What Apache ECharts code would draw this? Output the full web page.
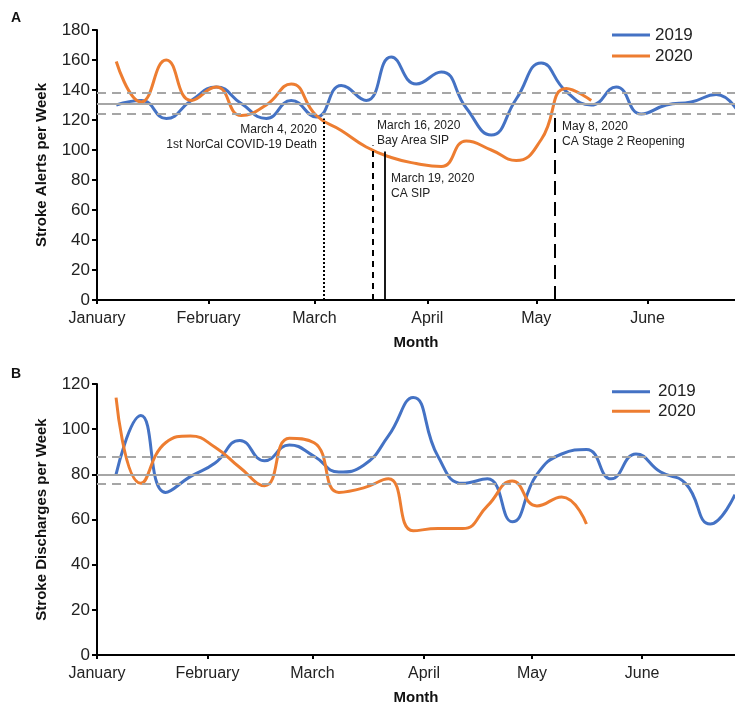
<!DOCTYPE html>
<html><head><meta charset="utf-8">
<script src="https://cdn.jsdelivr.net/npm/echarts@6/dist/echarts.min.js"></script>
<style>html,body{margin:0;padding:0;background:#fff}#c{width:735px;height:707px}</style>
</head><body><div id="c"></div>
<script>
// ---- data (x unit = week index; week 0 = first week of January) ----
const monthNames = ['January', 'February', 'March', 'April', 'May', 'June'];
const monthPos = [-0.77, 3.69, 7.93, 12.44, 16.8, 21.25];

const alerts2019 = [130, 133, 121, 133, 142, 131, 121, 133, 122, 143, 133, 162, 144, 152, 128, 110, 134, 158, 139, 130, 142, 124, 130, 132, 137, 122];
const alerts2020 = [159, 132, 160, 133, 142, 123, 130, 144, 123, 113, 102, 95, 91, 89, 106, 100, 93, 107, 141, 133];
const discharges2019 = [80, 106, 72, 79, 85, 95, 86, 93, 88, 81, 84, 97, 114, 88, 76, 78, 59, 80, 89, 91, 78, 89, 81, 76, 58, 71];
const discharges2020 = [114, 76, 94, 97, 92, 83, 75, 96, 94, 72, 74, 78, 55, 56, 56, 66, 77, 66, 70, 58];

const alertsRef = [131, 138, 124];      // mean, upper, lower
const dischargesRef = [80, 88, 76];

const events = [
  { week: 8.30, top: 121, style: [2, 2], title: 'March 4, 2020', note: '1st NorCal COVID-19 Death' },
  { week: 10.24, top: 103, style: [6, 5], title: 'March 16, 2020', note: 'Bay Area SIP' },
  { week: 10.74, top: 99, style: 'solid', title: 'March 19, 2020', note: 'CA SIP' },
  { week: 17.53, top: 123, style: [14, 7], title: 'May 8, 2020', note: 'CA Stage 2 Reopening' }
];

const FONT = 'Liberation Sans, Arial, sans-serif';
const BLUE = '#4472C4', ORANGE = '#ED7D31', GREY = '#A6A6A6';
const toXY = arr => arr.map((v, i) => [i, v]);

function xAxis(gridIndex, max) {
  return {
    type: 'value', gridIndex, min: monthPos[0], max,
    name: 'Month', nameLocation: 'middle', nameGap: 35,
    nameTextStyle: { fontFamily: FONT, fontSize: 15, fontWeight: 'bold', color: '#111' },
    axisLine: { onZero: false, lineStyle: { color: '#000', width: 2 } },
    axisTick: { show: true, customValues: monthPos, length: 4, lineStyle: { color: '#000', width: 2 } },
    axisLabel: {
      customValues: monthPos, margin: 11, fontFamily: FONT, fontSize: 16, color: '#222',
      formatter: v => {
        let best = 0;
        monthPos.forEach((p, i) => { if (Math.abs(p - v) < Math.abs(monthPos[best] - v)) best = i; });
        return monthNames[best];
      }
    },
    splitLine: { show: false }
  };
}
function yAxis(gridIndex, max, name) {
  return {
    type: 'value', gridIndex, min: 0, max, interval: 20,
    name, nameLocation: 'middle', nameGap: 48,
    nameTextStyle: { fontFamily: FONT, fontSize: 15, fontWeight: 'bold', color: '#111' },
    axisLine: { show: true, onZero: false, lineStyle: { color: '#000', width: 2 } },
    axisTick: { show: true, length: 5, lineStyle: { color: '#000', width: 2 } },
    axisLabel: { margin: 7, fontFamily: FONT, fontSize: 17, color: '#222' },
    splitLine: { show: false }
  };
}
function refSeries(idx, ref) {
  return {
    type: 'line', xAxisIndex: idx, yAxisIndex: idx, data: [], z: 1, silent: true,
    markLine: {
      silent: true, symbol: ['none', 'none'], label: { show: false }, animation: false,
      data: [
        { yAxis: ref[0], lineStyle: { color: GREY, width: 2, type: 'solid' } },
        { yAxis: ref[1], lineStyle: { color: GREY, width: 2, type: [9, 6] } },
        { yAxis: ref[2], lineStyle: { color: GREY, width: 2, type: [9, 6] } }
      ]
    }
  };
}
function dataSeries(idx, name, color, arr, extra) {
  return Object.assign({
    type: 'line', name, xAxisIndex: idx, yAxisIndex: idx, data: toXY(arr),
    smooth: 0.5, symbol: 'none', z: 3,
    lineStyle: { color, width: 3 }, itemStyle: { color }
  }, extra || {});
}

const eventLines = {
  silent: true, symbol: ['none', 'none'], label: { show: false }, animation: false,
  data: events.map(e => [
    { coord: [e.week, 0], lineStyle: { color: '#000', width: e.style === 'solid' ? 1.8 : 2, type: e.style } },
    { coord: [e.week, e.top] }
  ])
};

const textStyle = { fontFamily: FONT, fontSize: 12, fill: '#222', lineHeight: 14.5 };
const annotations = [
  { x: 317, y: 137, e: events[0], align: 'right' },
  { x: 377, y: 133, e: events[1], align: 'left' },
  { x: 391, y: 186, e: events[2], align: 'left' },
  { x: 562, y: 134, e: events[3], align: 'left' }
].map(a => ({
  type: 'text', x: a.x, y: a.y, silent: true,
  style: Object.assign({ text: a.e.title + '\n' + a.e.note, align: a.align, verticalAlign: 'middle' }, textStyle)
}));

const legendBase = {
  orient: 'vertical', left: 607, itemWidth: 38, itemHeight: 3, icon: 'rect',
  data: ['2019', '2020'], selectedMode: false
};

const option = {
  animation: false,
  backgroundColor: '#fff',
  grid: [
    { left: 97, right: 0, top: 30, height: 270 },
    { left: 97, right: 0, top: 384, height: 271 }
  ],
  xAxis: [xAxis(0, 24.75), xAxis(1, 25.0)],
  yAxis: [yAxis(0, 180, 'Stroke Alerts per Week'), yAxis(1, 120, 'Stroke Discharges per Week')],
  legend: [
    Object.assign({ top: 20, itemGap: 1,
      textStyle: { fontFamily: FONT, fontSize: 17, color: '#222', lineHeight: 20, padding: [0, 0, 0, 0] } }, legendBase),
    Object.assign({ top: 377, itemGap: 0,
      textStyle: { fontFamily: FONT, fontSize: 17, color: '#222', lineHeight: 19.5, padding: [0, 0, 0, 3] } }, legendBase)
  ],
  graphic: [
    { type: 'text', x: 11, y: 11, style: { text: 'A', fontFamily: FONT, fontSize: 14, fontWeight: 'bold', fill: '#111' } },
    { type: 'text', x: 11, y: 367, style: { text: 'B', fontFamily: FONT, fontSize: 14, fontWeight: 'bold', fill: '#111' } }
  ].concat(annotations),
  series: [
    refSeries(0, alertsRef),
    refSeries(1, dischargesRef),
    dataSeries(0, '2019', BLUE, alerts2019),
    dataSeries(0, '2020', ORANGE, alerts2020, { markLine: eventLines }),
    dataSeries(1, '2019', BLUE, discharges2019),
    dataSeries(1, '2020', ORANGE, discharges2020)
  ]
};
const chart = echarts.init(document.getElementById('c'), null, { renderer: 'canvas' });
chart.setOption(option);
</script>
</body></html>
